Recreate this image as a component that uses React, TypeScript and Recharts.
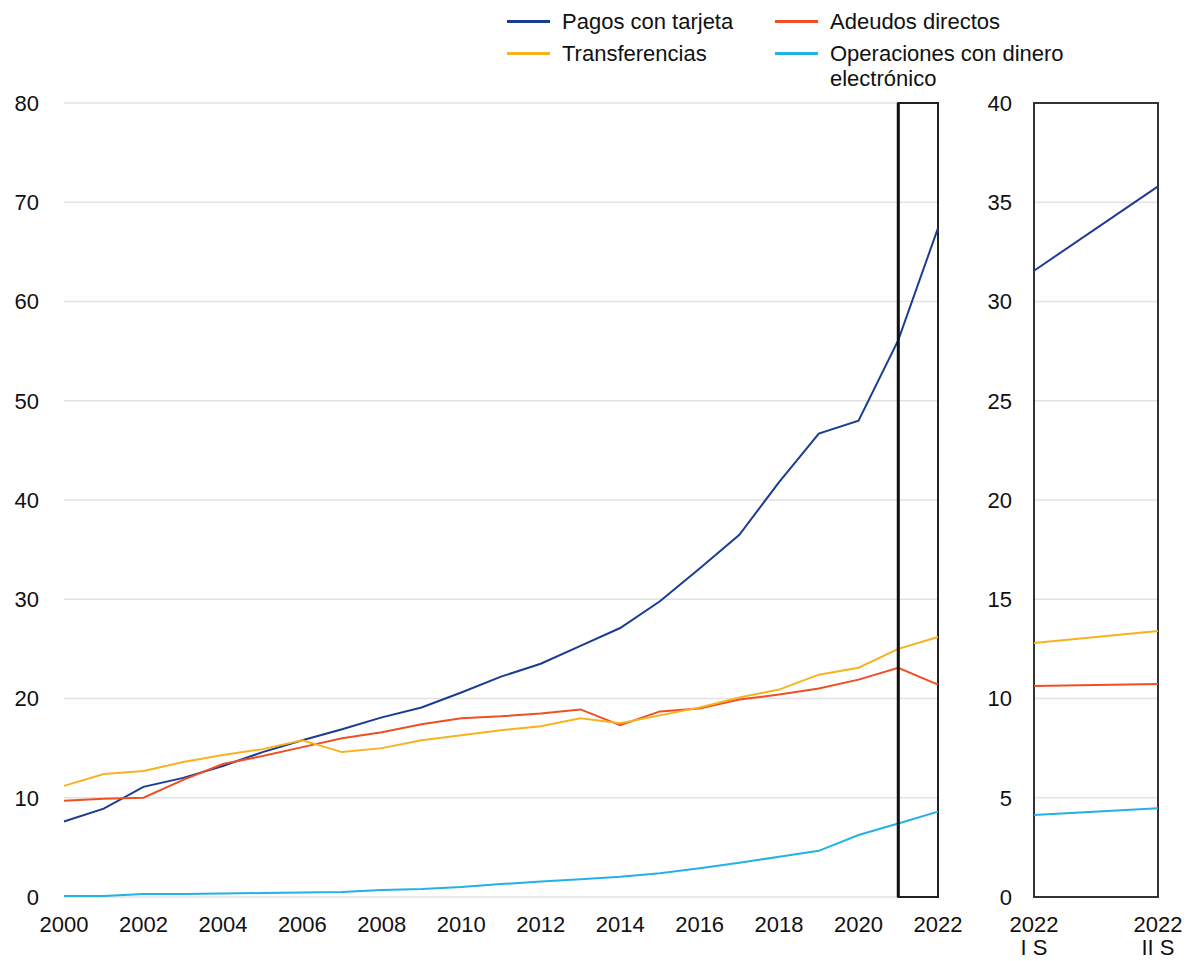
import React from 'react';
import { LineChart, Line, XAxis, YAxis, CartesianGrid, ReferenceArea, ReferenceLine } from 'recharts';

const years = [2000, 2001, 2002, 2003, 2004, 2005, 2006, 2007, 2008, 2009, 2010, 2011, 2012, 2013, 2014, 2015, 2016, 2017, 2018, 2019, 2020, 2021, 2022];
const pagos = [7.6, 8.9, 11.1, 12.0, 13.2, 14.6, 15.8, 16.9, 18.1, 19.1, 20.6, 22.2, 23.5, 25.3, 27.1, 29.8, 33.1, 36.5, 41.8, 46.7, 48.0, 56.1, 67.4];
const adeudos = [9.7, 9.9, 10.0, 11.8, 13.4, 14.2, 15.1, 16.0, 16.6, 17.4, 18.0, 18.2, 18.5, 18.9, 17.3, 18.7, 19.0, 19.9, 20.4, 21.0, 21.9, 23.1, 21.4];
const transferencias = [11.2, 12.4, 12.7, 13.6, 14.3, 14.9, 15.8, 14.6, 15.0, 15.8, 16.3, 16.8, 17.2, 18.0, 17.5, 18.3, 19.1, 20.1, 20.9, 22.4, 23.1, 25.0, 26.2];
const dinero = [0.1, 0.1, 0.3, 0.3, 0.35, 0.4, 0.45, 0.5, 0.7, 0.8, 1.0, 1.3, 1.55, 1.8, 2.05, 2.4, 2.9, 3.45, 4.05, 4.65, 6.25, 7.4, 8.6];

const semesters = ['I S', 'II S'];
const semesterYear = ['2022', '2022'];
const pagosS = [31.55, 35.8];
const adeudosS = [10.63, 10.73];
const transferenciasS = [12.8, 13.4];
const dineroS = [4.13, 4.47];

const xTicks = [2000, 2002, 2004, 2006, 2008, 2010, 2012, 2014, 2016, 2018, 2020, 2022];
const yTicksLeft = [0, 10, 20, 30, 40, 50, 60, 70, 80];
const yTicksRight = [0, 5, 10, 15, 20, 25, 30, 35, 40];

const series = [
  { key: 'pagos', name: 'Pagos con tarjeta', color: '#1b3c93' },
  { key: 'adeudos', name: 'Adeudos directos', color: '#f04e23' },
  { key: 'transferencias', name: 'Transferencias', color: '#f6b21f' },
  { key: 'dinero', name: 'Operaciones con dinero electrónico', color: '#22b2e6' },
];

const annualData = years.map((y, i) => ({
  year: y,
  pagos: pagos[i],
  adeudos: adeudos[i],
  transferencias: transferencias[i],
  dinero: dinero[i],
}));

const semData = semesters.map((s, i) => ({
  idx: i,
  pagos: pagosS[i],
  adeudos: adeudosS[i],
  transferencias: transferenciasS[i],
  dinero: dineroS[i],
}));

const FONT = '"Liberation Sans", Arial, Helvetica, sans-serif';
const FS = 22;
const TEXT = '#111';
const GRID = '#e2e2e2';

const SemTick = (props: any) => {
  const { x, y, payload } = props;
  const i = payload.value as number;
  return (
    <g>
      <text x={x} y={y} dy="0.71em" textAnchor="middle" fontSize={FS} fill={TEXT} fontFamily={FONT}>
        {semesterYear[i]}
      </text>
      <text x={x} y={y + 23} dy="0.71em" textAnchor="middle" fontSize={FS} fill={TEXT} fontFamily={FONT}>
        {semesters[i]}
      </text>
    </g>
  );
};

const Legend = () => (
  <div style={{ position: 'absolute', left: 0, top: 0, fontFamily: FONT, fontSize: FS, color: TEXT }}>
    {series.map((s, i) => {
      const col = i % 2;
      const row = Math.floor(i / 2);
      return (
        <div
          key={s.key}
          style={{
            position: 'absolute',
            left: col === 0 ? 507 : 775,
            top: row === 0 ? 9 : 41,
            display: 'flex',
            alignItems: 'flex-start',
            width: 400,
          }}
        >
          <span style={{ display: 'inline-block', width: 43, height: 2.5, background: s.color, marginTop: 11, marginRight: 12, flex: 'none' }} />
          <span style={{ width: 260, lineHeight: '25px' }}>{s.name}</span>
        </div>
      );
    })}
  </div>
);

export default function App() {
  return (
    <div style={{ position: 'absolute', left: 0, top: 0, width: 1189, height: 961, background: '#fff', fontFamily: FONT }}>
      <div style={{ position: 'absolute', left: 0, top: 0 }}>
        <LineChart width={990} height={961} data={annualData} margin={{ top: 103, right: 52, bottom: 14, left: 0 }}>
          <CartesianGrid vertical={false} stroke={GRID} strokeWidth={1.5} />
          <XAxis
            dataKey="year"
            type="number"
            domain={[2000, 2022]}
            ticks={xTicks}
            axisLine={false}
            tickLine={false}
            tickSize={0}
            tickMargin={19}
            height={50}
            tick={{ fontSize: FS, fill: TEXT, fontFamily: FONT }}
          />
          <YAxis
            type="number"
            domain={[0, 80]}
            ticks={yTicksLeft}
            axisLine={false}
            tickLine={false}
            tickSize={0}
            tickMargin={25}
            width={64}
            tick={{ fontSize: FS, fill: TEXT, fontFamily: FONT }}
          />
          {series.map((s) => (
            <Line key={s.key} type="linear" dataKey={s.key} stroke={s.color} strokeWidth={2} dot={false} isAnimationActive={false} />
          ))}
          <ReferenceArea x1={2021} x2={2022} y1={0} y2={80} fill="none" stroke="#222" strokeWidth={2} />
          <ReferenceLine x={2021} stroke="#111" strokeWidth={3} />
        </LineChart>
      </div>
      <div style={{ position: 'absolute', left: 950, top: 0 }}>
        <LineChart width={239} height={961} data={semData} margin={{ top: 103, right: 31, bottom: 14, left: 0 }}>
          <CartesianGrid vertical={false} stroke={GRID} strokeWidth={1.5} />
          <XAxis
            dataKey="idx"
            type="number"
            domain={[0, 1]}
            ticks={[0, 1]}
            axisLine={false}
            tickLine={false}
            tickSize={0}
            tickMargin={19}
            height={50}
            tick={<SemTick />}
          />
          <YAxis
            type="number"
            domain={[0, 40]}
            ticks={yTicksRight}
            axisLine={false}
            tickLine={false}
            tickSize={0}
            tickMargin={22}
            width={84}
            tick={{ fontSize: FS, fill: TEXT, fontFamily: FONT }}
          />
          {series.map((s) => (
            <Line key={s.key} type="linear" dataKey={s.key} stroke={s.color} strokeWidth={2} dot={false} isAnimationActive={false} />
          ))}
          <ReferenceArea x1={0} x2={1} y1={0} y2={40} fill="none" stroke="#333" strokeWidth={2} />
        </LineChart>
      </div>
      <Legend />
    </div>
  );
}
